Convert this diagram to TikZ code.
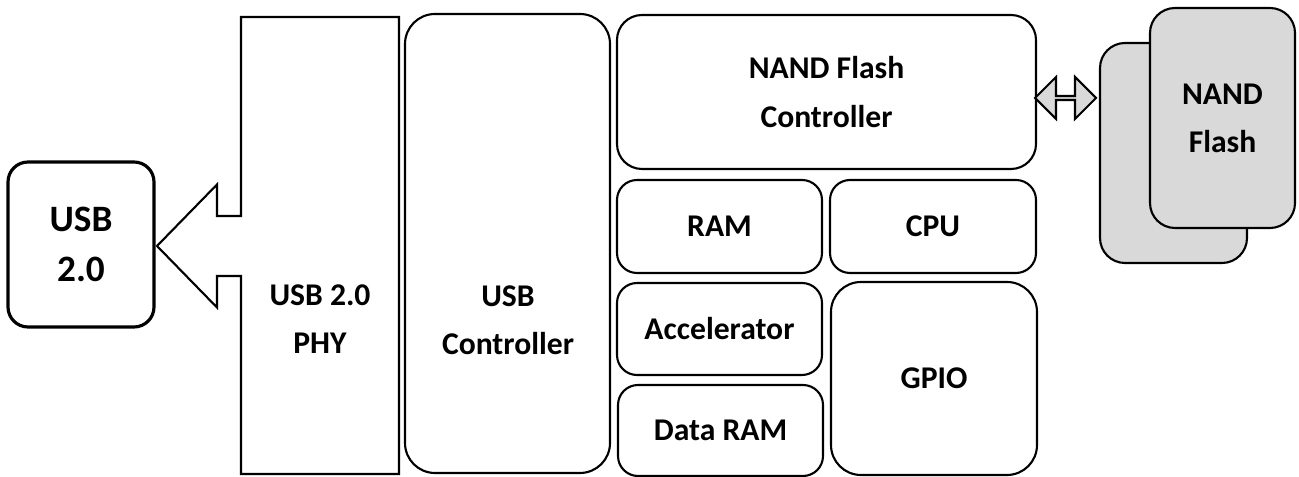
\documentclass[tikz,border=0pt]{standalone}
\usepackage{fontspec}
\setmainfont{Carlito}
\usetikzlibrary{shapes.arrows}

\tikzset{
	blk/.style={draw, line width=0.6pt, rounded corners=0.2cm, inner sep=0pt},
	card/.style={blk, fill=gray!30, rounded corners=0.25cm},
	txt/.style={align=center, font=\fontsize{9}{13.7}\selectfont\bfseries},
	big/.style={align=center, font=\fontsize{10.6}{14.2}\selectfont\bfseries},
	dblarrow/.style={double arrow, draw, line width=0.6pt, fill=gray!30, inner sep=0pt,
		minimum width=0.42cm, minimum height=0.61cm, double arrow head extend=0.1cm}
}

\begin{document}
\begin{tikzpicture}
\useasboundingbox (0,0) rectangle (12.99,-4.77);

% host side
\node (usb) at (0.81,-2.445) [blk,line width=0.9pt,minimum width=1.46cm,minimum height=1.65cm,big] {USB\\2.0};

\draw [line width=0.6pt] (2.41,-0.17) -- (3.99,-0.17) -- (3.99,-4.74) -- (2.41,-4.74)
	-- (2.41,-2.76) -- (2.17,-2.76) -- (2.17,-3.075) -- (1.57,-2.46) -- (2.17,-1.845)
	-- (2.17,-2.16) -- (2.41,-2.16) -- cycle;
\node (phy) at (3.20,-3.19) [txt] {USB 2.0\\PHY};

\node (usbc) at (5.075,-2.435) [blk,rounded corners=0.3cm,minimum width=2.05cm,minimum height=4.59cm] {};
\node (usbct) at (5.08,-3.20) [txt] {USB\\Controller};

% controller blocks
\node (nfc) at (8.265,-0.92) [blk,rounded corners=0.25cm,minimum width=4.19cm,minimum height=1.54cm,txt] {NAND Flash\\Controller};
\node (ram) at (7.195,-2.265) [blk,minimum width=2.05cm,minimum height=0.93cm,txt] {RAM};
\node (cpu) at (9.33,-2.265) [blk,minimum width=2.06cm,minimum height=0.93cm,txt] {CPU};
\node (acc) at (7.195,-3.29) [blk,minimum width=2.05cm,minimum height=0.92cm,txt] {Accelerator};
\node (dram) at (7.205,-4.305) [blk,minimum width=2.05cm,minimum height=0.91cm,txt] {Data RAM};
\node (gpio) at (9.34,-3.785) [blk,rounded corners=0.3cm,minimum width=2.06cm,minimum height=1.93cm,txt] {GPIO};

% flash chips
\node (flashb) at (11.735,-1.53) [card,minimum width=1.47cm,minimum height=2.20cm] {};
\node (flash) at (12.225,-1.18) [card,minimum width=1.45cm,minimum height=2.20cm,txt] {NAND\\Flash};

\node (link) at (10.655,-0.98) [dblarrow] {};

\end{tikzpicture}
\end{document}
